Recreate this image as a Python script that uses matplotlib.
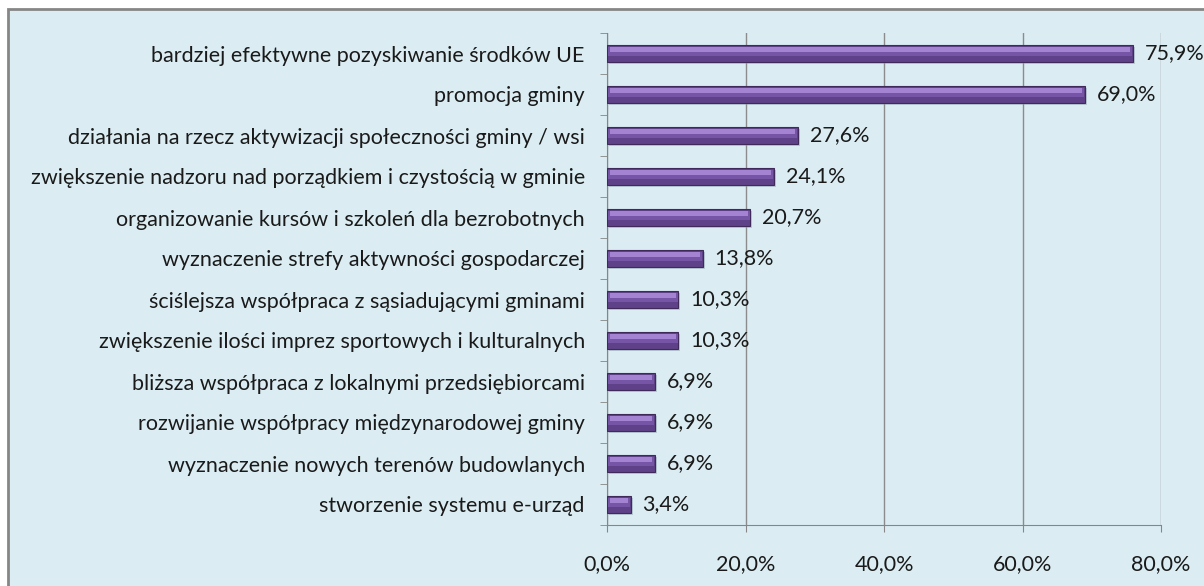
import matplotlib.pyplot as plt
from matplotlib.patches import Rectangle

categories = [
    "bardziej efektywne pozyskiwanie środków UE",
    "promocja gminy",
    "działania na rzecz aktywizacji społeczności gminy / wsi",
    "zwiększenie nadzoru nad porządkiem i czystością w gminie",
    "organizowanie kursów i szkoleń dla bezrobotnych",
    "wyznaczenie strefy aktywności gospodarczej",
    "ściślejsza współpraca z sąsiadującymi gminami",
    "zwiększenie ilości imprez sportowych i kulturalnych",
    "bliższa współpraca z lokalnymi przedsiębiorcami",
    "rozwijanie współpracy międzynarodowej gminy",
    "wyznaczenie nowych terenów budowlanych",
    "stworzenie systemu e-urząd",
]
values = [75.9, 69.0, 27.6, 24.1, 20.7, 13.8, 10.3, 10.3, 6.9, 6.9, 6.9, 3.4]
xticks = [0, 20, 40, 60, 80]

plt.rcParams['font.family'] = ['Lato', 'DejaVu Sans']
fs = 15.5

bg = '#dbedf3'
fig = plt.figure(figsize=(12.04, 5.86), dpi=100)
fig.patch.set_facecolor('white')
# outer chart-area frame (runs off the right and bottom edge)
fig.patches.append(Rectangle((8 / 1204, -0.01), 1.0, 1 - 9 / 586 + 0.01,
                             transform=fig.transFigure, facecolor=bg,
                             edgecolor='#868686', linewidth=2.0, zorder=-5))

ax = fig.add_axes([607 / 1204, 1 - 525 / 586, (1161 - 607) / 1204, (525 - 33) / 586])
ax.set_facecolor('none')

y = list(range(len(categories)))
h = 0.42
# shadow, body, bands for a bevelled look
ax.barh([i + 0.05 for i in y], values, height=h, left=0.3, color='#8d9ea8', alpha=0.45, zorder=2)
ax.barh(y, values, height=h, color='#5f4189', edgecolor='#3f2a5a', linewidth=0.8, zorder=3)
ax.barh([i - h * 0.12 for i in y], [v - 0.2 for v in values], height=h * 0.5, left=0.1,
        color='#7655a6', linewidth=0, zorder=4)
ax.barh([i - h * 0.22 for i in y], [v - 0.9 for v in values], height=h * 0.28, left=0.5,
        color='#a483d3', linewidth=0, zorder=5)

for i, v in enumerate(values):
    ax.text(v + 1.7, i, f"{v:.1f}%".replace('.', ','), va='center', ha='left',
            fontsize=fs, color='#1a1a1a', zorder=6)

ax.set_xlim(0, 80)
ax.set_ylim(len(categories) - 0.5, -0.5)
ax.set_xticks(xticks)
ax.set_xticklabels([f"{t:.1f}%".replace('.', ',') for t in xticks], fontsize=fs, color='#1a1a1a')
ax.set_yticks(y)
ax.set_yticklabels(categories, fontsize=fs, color='#1a1a1a')
ax.set_yticks([i + 0.5 for i in range(-1, len(categories))], minor=True)
ax.tick_params(axis='y', which='major', length=0, pad=16)
ax.tick_params(axis='y', which='minor', length=5, color='#868686')
ax.tick_params(axis='x', length=5, color='#868686', pad=16)
ax.grid(axis='x', color='#8c8c8c', linewidth=1.0, zorder=1)
ax.set_axisbelow(True)
for s in ['top', 'right']:
    ax.spines[s].set_visible(False)
for s in ['left', 'bottom']:
    ax.spines[s].set_color('#868686')

fig.savefig('out.png', dpi=100, facecolor='white')
